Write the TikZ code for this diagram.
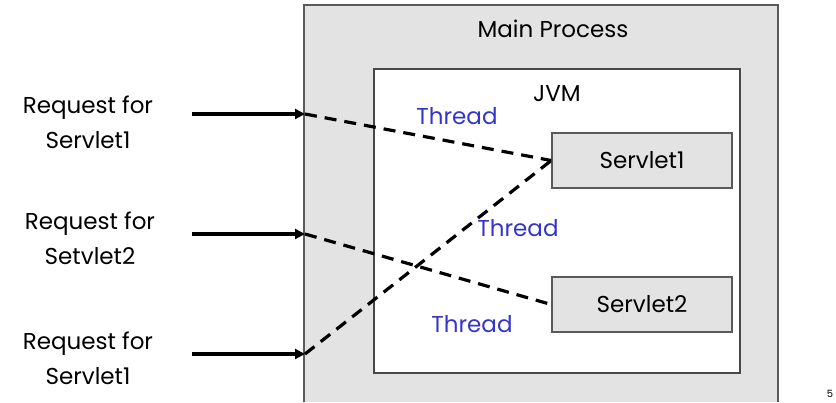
\documentclass[tikz,border=0pt]{standalone}
\usepackage{fontspec}
\setmainfont{Poppins}
\usetikzlibrary{arrows.meta}
\definecolor{boxgray}{HTML}{E3E3E3}
\definecolor{edgegray}{HTML}{5A5A5A}
\definecolor{threadblue}{HTML}{3535CC}
\tikzset{
  txt/.style={font=\fontsize{23}{35}\selectfont, inner sep=0pt},
  reqtxt/.style={txt, align=center},
  threadtxt/.style={txt, text=threadblue},
  servletbox/.style={draw=edgegray, line width=1.5pt, fill=boxgray, minimum width=180pt, minimum height=55pt, inner sep=0pt, font=\fontsize{23}{26}\selectfont},
  reqarrow/.style={line width=3.2pt, -{Triangle[length=10pt,width=10pt]}},
  threadline/.style={line width=3.2pt, dash pattern=on 12pt off 8pt}
}
\begin{document}
\begin{tikzpicture}[x=1pt,y=-1pt]
\useasboundingbox (0,0) rectangle (836,402);
% main process
\fill[boxgray] (304,5) rectangle (778,402);
\draw[edgegray, line width=1.5pt] (304,402) -- (304,5) -- (778,5) -- (778,402);
\node[txt] (mainlbl) at (553,29) {Main Process};
% JVM
\draw[edgegray!80!black, line width=1.5pt, fill=white] (374,69) rectangle (740,373);
\node[txt] (jvmlbl) at (557,94) {JVM};
% servlets
\node[servletbox] (s1) at (642,160.5) {Servlet1};
\node[servletbox] (s2) at (642,304.5) {Servlet2};
% requests
\node[reqtxt] (r1) at (88,122) {Request for\\Servlet1};
\node[reqtxt] (r2) at (90,238) {Request for\\Setvlet2};
\node[reqtxt] (r3) at (88,358) {Request for\\Servlet1};
\coordinate (a1s) at (192,114);
\coordinate (a2s) at (192,234);
\coordinate (a3s) at (192,354);
\coordinate (a1e) at (305,114);
\coordinate (a2e) at (305,234);
\coordinate (a3e) at (305,354);
\draw[reqarrow] (a1s) -- (a1e);
\draw[reqarrow] (a2s) -- (a2e);
\draw[reqarrow] (a3s) -- (a3e);
% threads
\draw[threadline] (a1e) -- (s1.west);
\draw[threadline] (a2e) -- (s2.west);
\draw[threadline] (a3e) -- (s1.west);
\node[threadtxt] (t1) at (457,116) {Thread};
\node[threadtxt] (t2) at (518,228) {Thread};
\node[threadtxt] (t3) at (472,324) {Thread};
\node[font=\fontsize{10}{11}\selectfont, inner sep=0pt] (pg) at (830,394) {5};
\end{tikzpicture}
\end{document}
